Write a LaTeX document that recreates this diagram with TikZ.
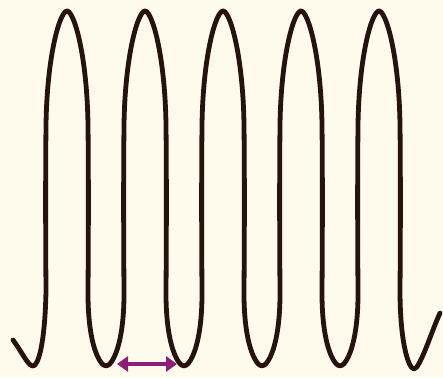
\documentclass[tikz,border=0pt]{standalone}
\usepackage{tikz}
\usepackage{xcolor}
\usetikzlibrary{arrows.meta}

\definecolor{paper}{RGB}{255,251,236}
\definecolor{wavepurple}{RGB}{140,30,122}
\definecolor{inkdark}{RGB}{38,18,14}

\begin{document}
\begin{tikzpicture}[x=1pt,y=-1pt,
		wave/.style={line width=4.8pt, inkdark, line cap=round, line join=round},
		span/.style={{Triangle[length=11pt,width=15pt]}-{Triangle[length=11pt,width=15pt]}, line width=4pt, wavepurple}]
				% Paper
				\fill[paper] (0,0) rectangle (443,377);
				\useasboundingbox (0,0) rectangle (443,377);
				
				% Wave: start hook, four full periods, last crest and end hook
				\draw[wave] (13,340) .. controls (22,352) and (28,366) .. (33,366)
					.. controls (38,366) and (45,345) .. (46,290)
					\foreach \p in {67,145,223,301} {
						.. controls ({\p-21.5},230) and ({\p-21.5},170) .. ({\p-21},125)
						.. controls ({\p-20},55) and ({\p-7},11) .. (\p,11)
						.. controls ({\p+7},11) and ({\p+20},55) .. ({\p+21},125)
						.. controls ({\p+21.5},170) and ({\p+21.5},230) .. ({\p+21},290)
						.. controls ({\p+20.5},345) and ({\p+33},366) .. ({\p+39},366)
						.. controls ({\p+45},366) and ({\p+57.5},345) .. ({\p+57},290)
					}
					.. controls (357.5,230) and (357.5,170) .. (358,125)
					.. controls (359,55) and (372,11) .. (379,11)
					.. controls (386,11) and (399,55) .. (400,125)
					.. controls (400.5,170) and (400.5,230) .. (400,290)
					.. controls (400,345) and (409,369) .. (414,369)
					.. controls (420,369) and (432,330) .. (440,313);
				
				% Wavelength arrow
				\coordinate (left) at (117,364);
				\coordinate (right) at (177,364);
				\draw[span] (left) -- (right);
			\end{tikzpicture}
\end{document}
